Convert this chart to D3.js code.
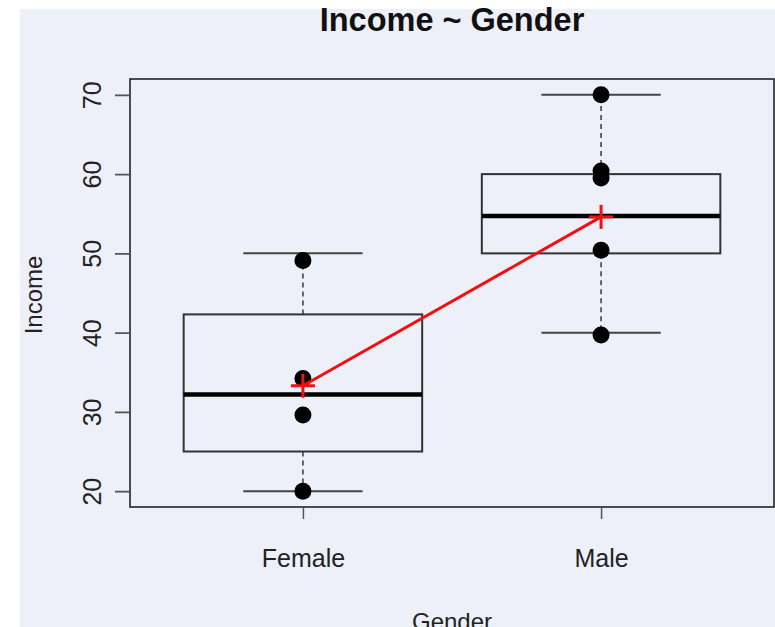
<!DOCTYPE html>
<html>
<head>
<meta charset="utf-8">
<script src="https://cdn.jsdelivr.net/npm/d3@7"></script>
<style>
  body { margin: 0; background: #fff; }
  svg { display: block; font-family: "Liberation Sans", Arial, sans-serif; }
</style>
</head>
<body>
<div id="chart"></div>
<script>
// values
var categories = ["Female", "Male"];
var whiskerLow = [20, 40];
var q1 = [25, 50];
var medians = [32.2, 54.7];
var q3 = [42.3, 60];
var whiskerHigh = [50, 70];
var means = [33.3, 54.6];
var femalePoints = [49.1, 34.2, 29.6, 20];
var malePoints = [70, 60.4, 59.5, 50.4, 39.7];
var yTicks = [20, 30, 40, 50, 60, 70];

var points = [femalePoints, malePoints];

var svg = d3.select("#chart").append("svg").attr("width", 775).attr("height", 627);

svg.append("rect").attr("x", 20).attr("y", 9).attr("width", 755).attr("height", 618).attr("fill", "#edf0f9");

var x = d3.scaleLinear().domain([0.42, 2.58]).range([130, 774]);
var y = d3.scaleLinear().domain([18, 72]).range([507, 79]);

var boxes = categories.map((c, i) => ({
    name: c, pos: i + 1, lo: whiskerLow[i], q1: q1[i], med: medians[i], q3: q3[i], hi: whiskerHigh[i], mean: means[i], pts: points[i]
}));

// whiskers (dashed) + boxes
boxes.forEach(b => {
    svg.append("line").attr("x1", x(b.pos)).attr("x2", x(b.pos)).attr("y1", y(b.q3)).attr("y2", y(b.hi))
        .attr("stroke", "#444").attr("stroke-width", 1.6).attr("stroke-dasharray", "5,4");
    svg.append("line").attr("x1", x(b.pos)).attr("x2", x(b.pos)).attr("y1", y(b.q1)).attr("y2", y(b.lo))
        .attr("stroke", "#444").attr("stroke-width", 1.6).attr("stroke-dasharray", "5,4");
    [b.lo, b.hi].forEach(v => {
        svg.append("line").attr("x1", x(b.pos - 0.2)).attr("x2", x(b.pos + 0.2)).attr("y1", y(v)).attr("y2", y(v))
            .attr("stroke", "#444").attr("stroke-width", 2);
    });
    svg.append("rect").attr("x", x(b.pos - 0.4)).attr("y", y(b.q3)).attr("width", x(b.pos + 0.4) - x(b.pos - 0.4)).attr("height", y(b.q1) - y(b.q3))
        .attr("fill", "none").attr("stroke", "#333").attr("stroke-width", 2);
    svg.append("line").attr("x1", x(b.pos - 0.4)).attr("x2", x(b.pos + 0.4)).attr("y1", y(b.med)).attr("y2", y(b.med))
        .attr("stroke", "#000").attr("stroke-width", 4.5);
});

// data points
boxes.forEach(b => {
    svg.selectAll(null).data(b.pts).enter().append("circle")
        .attr("cx", x(b.pos)).attr("cy", d => y(d)).attr("r", 8.5).attr("fill", "#000");
});

// mean line and crosses
var line = d3.line().x(d => x(d.pos)).y(d => y(d.mean));
svg.append("path").datum(boxes).attr("fill", "none").attr("stroke", "#f01010").attr("stroke-width", 3).attr("d", line);
boxes.forEach(b => {
    svg.append("line").attr("x1", x(b.pos) - 12).attr("x2", x(b.pos) + 12).attr("y1", y(b.mean)).attr("y2", y(b.mean))
        .attr("stroke", "#f01010").attr("stroke-width", 3);
    svg.append("line").attr("x1", x(b.pos)).attr("x2", x(b.pos)).attr("y1", y(b.mean) - 12).attr("y2", y(b.mean) + 12)
        .attr("stroke", "#f01010").attr("stroke-width", 3);
});

// plot frame
svg.append("rect").attr("x", 130).attr("y", 79).attr("width", 644).attr("height", 428)
    .attr("fill", "none").attr("stroke", "#222").attr("stroke-width", 1.6);

// y axis
var yAxis = svg.append("g").attr("transform", "translate(130,0)")
    .call(d3.axisLeft(y).tickValues(yTicks).tickSize(15).tickSizeOuter(0));
yAxis.select(".domain").remove();
yAxis.selectAll("line").attr("stroke", "#555").attr("stroke-width", 1.8);
yAxis.selectAll("text").attr("transform", "rotate(-90)").attr("x", 0).attr("y", -29).attr("dy", 0)
    .attr("text-anchor", "middle").attr("font-size", 25).attr("fill", "#222").attr("font-family", "Liberation Sans, Arial, sans-serif");

// x axis
var xAxis = svg.append("g").attr("transform", "translate(0,507)")
    .call(d3.axisBottom(x).tickValues([1, 2]).tickFormat((d, i) => categories[i]).tickSize(12).tickSizeOuter(0));
xAxis.select(".domain").remove();
xAxis.selectAll("line").attr("stroke", "#555").attr("stroke-width", 1.5);
xAxis.selectAll("text").attr("y", 60).attr("dy", 0).attr("font-size", 25).attr("fill", "#222")
    .attr("font-family", "Liberation Sans, Arial, sans-serif");

// titles
svg.append("text").attr("x", 452).attr("y", 31).attr("text-anchor", "middle").attr("font-size", 32.5).attr("font-weight", "bold")
    .attr("fill", "#111").text("Income ~ Gender");
svg.append("text").attr("x", 452).attr("y", 630).attr("text-anchor", "middle").attr("font-size", 24).attr("fill", "#222").text("Gender");
svg.append("text").attr("transform", "translate(42,295) rotate(-90)").attr("text-anchor", "middle").attr("font-size", 24)
    .attr("fill", "#222").text("Income");
</script>
</body>
</html>
